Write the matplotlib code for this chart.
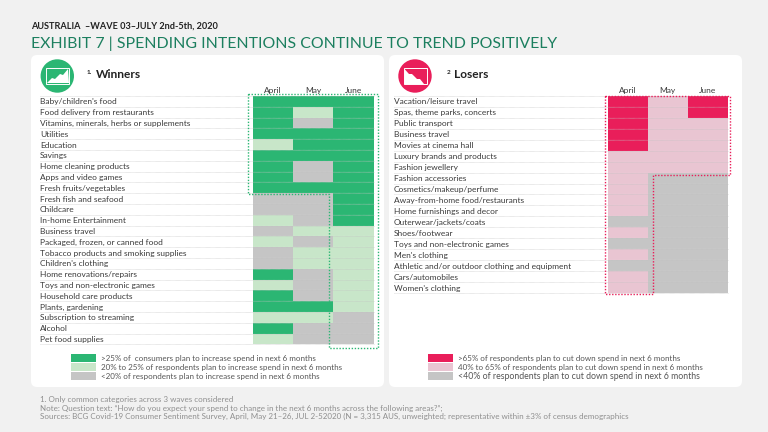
#!/usr/bin/env python3
import numpy as np
import matplotlib
matplotlib.use('Agg')
import matplotlib.pyplot as plt
from matplotlib.colors import ListedColormap
from matplotlib.patches import Circle, FancyBboxPatch, Patch, Polygon, Rectangle

W, H = 768, 432
plt.rcParams['font.family'] = ['Lato', 'DejaVu Sans']

months = ['April', 'May', 'June']

winners = ["Baby/children's food", 'Food delivery from restaurants',
           'Vitamins, minerals, herbs or supplements', 'Utilities', 'Education',
           'Savings', 'Home cleaning products', 'Apps and video games',
           'Fresh fruits/vegetables', 'Fresh fish and seafood', 'Childcare',
           'In-home Entertainment', 'Business travel',
           'Packaged, frozen, or canned food',
           'Tobacco products and smoking supplies', "Children's clothing",
           'Home renovations/repairs', 'Toys and non-electronic games',
           'Household care products', 'Plants, gardening',
           'Subscription to streaming', 'Alcohol', 'Pet food supplies']
# 2 = high, 1 = middle, 0 = low
winners_april = [2, 2, 2, 2, 1, 2, 2, 2, 2, 0, 0, 1, 0, 1, 0, 0, 2, 1, 2, 2, 1, 2, 1]
winners_may = [2, 1, 0, 2, 2, 2, 0, 0, 2, 0, 0, 0, 1, 0, 1, 1, 0, 0, 0, 2, 1, 0, 0]
winners_june = [2, 2, 2, 2, 2, 2, 2, 2, 2, 2, 2, 2, 1, 1, 1, 1, 1, 1, 1, 1, 0, 0, 0]

losers = ['Vacation/leisure travel', 'Spas, theme parks, concerts',
          'Public transport', 'Business travel', 'Movies at cinema hall',
          'Luxury brands and products', 'Fashion jewellery',
          'Fashion accessories', 'Cosmetics/makeup/perfume',
          'Away-from-home food/restaurants', 'Home furnishings and decor',
          'Outerwear/jackets/coats', 'Shoes/footwear',
          'Toys and non-electronic games', "Men's clothing",
          'Athletic and/or outdoor clothing and equipment', 'Cars/automobiles',
          "Women's clothing"]
losers_april = [2, 2, 2, 2, 2, 1, 1, 1, 1, 1, 1, 0, 1, 0, 1, 0, 1, 1]
losers_may = [1, 1, 1, 1, 1, 1, 1, 0, 0, 0, 0, 0, 0, 0, 0, 0, 0, 0]
losers_june = [2, 2, 1, 1, 1, 1, 1, 0, 0, 0, 0, 0, 0, 0, 0, 0, 0, 0]

winners_legend = ['>25% of  consumers plan to increase spend in next 6 months',
                  '20% to 25% of respondents plan to increase spend in next 6 months',
                  '<20% of respondents plan to increase spend in next 6 months']
losers_legend = ['>65% of respondents plan to cut down spend in next 6 months',
                 '40% to 65% of respondents plan to cut down spend in next 6 months',
                 '<40% of respondents plan to cut down spend in next 6 months']

GREEN = '#2bb673'
LIGHT_GREEN = '#c8e6c9'
RED = '#e91e5a'
PINK = '#e9c5d2'
GREY = '#c5c5c5'
BG = '#f1f1f1'
TEXT = '#3a3a3a'
TITLE = '#1c7f5f'
LABEL_SIZE = 6.0


def px_axes(fig, x0, y0, x1, y1):
    """axes placed by pixel box (y from the top)"""
    return fig.add_axes([x0 / W, 1 - y1 / H, (x1 - x0) / W, (y1 - y0) / H])


def heatmap(fig, box, labels, cols, colors, label_x, legend_labels, legend_xy,
            legend_sizes):
    x0, y0, x1, y1 = box
    ax = px_axes(fig, x0, y0, x1, y1)
    ax.patch.set_alpha(0)
    grid = np.array(cols).T
    ax.pcolormesh(np.arange(4), np.arange(len(labels) + 1), grid,
                  cmap=ListedColormap([GREY, colors[1], colors[0]]),
                  vmin=0, vmax=2)
    ax.set_ylim(len(labels), 0)
    ax.set_xlim(0, 3)
    for s in ax.spines.values():
        s.set_visible(False)

    pad = (x0 - label_x) * 72 / 100
    ax.set_yticks(np.arange(len(labels)) + 0.5, labels, ha='left')
    ax.tick_params(axis='y', length=0, pad=pad, labelsize=LABEL_SIZE, labelcolor=TEXT)
    ax.xaxis.tick_top()
    ax.set_xticks(np.arange(3) + 0.5, months)
    ax.tick_params(axis='x', length=0, pad=2.5, labelsize=LABEL_SIZE, labelcolor=TEXT)
    for tick in ax.xaxis.get_major_ticks():
        tick.label2.set_verticalalignment('baseline')

    # dotted row rules run from the labels across the cells
    left = -(x0 - label_x) / ((x1 - x0) / 3)
    ax.hlines(np.arange(len(labels) + 1), left, 3, colors='#bdbdbd',
              linewidth=0.4, linestyles=(0, (1, 1)), clip_on=False)
    ax.hlines(np.arange(1, len(labels)), 0, 3, colors='white',
              linewidth=0.3, alpha=0.35, linestyles=(0, (1, 1)))

    handles = [Patch(facecolor=colors[0]), Patch(facecolor=colors[1]),
               Patch(facecolor=GREY)]
    leg = fig.legend(handles, legend_labels, loc='upper left',
                     bbox_to_anchor=(legend_xy[0] / W, 1 - legend_xy[1] / H),
                     frameon=False, fontsize=LABEL_SIZE, handlelength=3.0,
                     handleheight=1.15, labelspacing=0.1, handletextpad=0.6,
                     borderpad=0, borderaxespad=0, labelcolor='#555555')
    for txt, size in zip(leg.get_texts(), legend_sizes):
        txt.set_fontsize(size)
    return ax


fig = plt.figure(figsize=(W / 100, H / 100), dpi=100, facecolor=BG)
bg = fig.add_axes([0, 0, 1, 1])
bg.set_xlim(0, W)
bg.set_ylim(H, 0)
bg.axis('off')

# panels
for x in (31, 389):
    bg.add_patch(FancyBboxPatch((x + 6, 61), 353 - 12, 320,
                                boxstyle='round,pad=6,rounding_size=6',
                                facecolor='white', edgecolor='none'))

# header text
bg.text(31, 26, 'AUSTRALIA  \u2013WAVE 03\u2013JULY 2nd-5th, 2020', fontsize=6.6,
        fontweight='bold', color='#222222', va='center')
bg.text(31, 44, 'EXHIBIT 7 | SPENDING INTENTIONS CONTINUE TO TREND POSITIVELY',
        fontsize=11.4, color=TITLE, va='center')

# icons
for cx, col, pts in (
        (57.3, GREEN, [(47, 83), (52, 78), (55, 79), (60, 74), (63, 75), (68, 69),
                       (69, 83)]),
        (415, RED, [(404.5, 69), (409, 74), (412, 74), (417, 79), (420, 79),
                    (424, 84), (404.5, 84)])):
    bg.add_patch(Circle((cx, 76), 16.7, facecolor=col, edgecolor='none'))
    bg.add_patch(Rectangle((cx - 11, 68.3), 22.5, 15.5, facecolor='none',
                           edgecolor='white', linewidth=0.7))
    bg.add_patch(Polygon(pts, closed=True, facecolor='white', edgecolor='none'))

# panel titles
bg.text(87, 72.5, '1.', fontsize=4.6, fontweight='bold', color='#222222', va='center')
bg.text(95.5, 74, 'Winners', fontsize=8.6, fontweight='bold', color='#222222', va='center')
bg.text(447, 72.5, '2', fontsize=4.6, fontweight='bold', color='#222222', va='center')
bg.text(454, 74, 'Losers', fontsize=8.6, fontweight='bold', color='#222222', va='center')

heatmap(fig, (253, 96, 373.7, 344.3), winners,
        [winners_april, winners_may, winners_june], (GREEN, LIGHT_GREEN), 40,
        winners_legend, (71, 353.7), (5.75, 5.75, 5.75))
heatmap(fig, (607.7, 96, 728, 293), losers,
        [losers_april, losers_may, losers_june], (RED, PINK), 394,
        losers_legend, (428, 353.7), (5.8, 5.75, 6.3))

# dotted call-out outlines, on top of the cells
top = fig.add_axes([0, 0, 1, 1])
top.set_xlim(0, W)
top.set_ylim(H, 0)
top.axis('off')
top.plot([248, 378, 378, 328.5, 328.5, 248, 248],
         [94, 94, 347.7, 347.7, 193.5, 193.5, 94],
         color=GREEN, linewidth=1.0, linestyle=(0, (1, 1.2)))
top.plot([605, 730, 730, 652.7, 652.7, 605, 605],
         [95.7, 95.7, 175, 175, 293.7, 293.7, 95.7],
         color=RED, linewidth=1.0, linestyle=(0, (1, 1.2)))

# footnotes
bg.text(40, 399.3, '1. Only common categories across 3 waves considered',
        fontsize=5.76, color='#8f8f8f', va='center')
bg.text(40, 408, 'Note: Question text: \u201cHow do you expect your spend to change in the next 6 months across the following areas?\u201d;',
        fontsize=5.73, color='#8f8f8f', va='center')
bg.text(40, 416.3, 'Sources: BCG Covid-19 Consumer Sentiment Survey, April, May 21\u201326, JUL 2-52020 (N = 3,315 AUS, unweighted; representative within \u00b13% of census demographics',
        fontsize=5.75, color='#8f8f8f', va='center')

fig.savefig('out.png', dpi=100, facecolor=fig.get_facecolor())
